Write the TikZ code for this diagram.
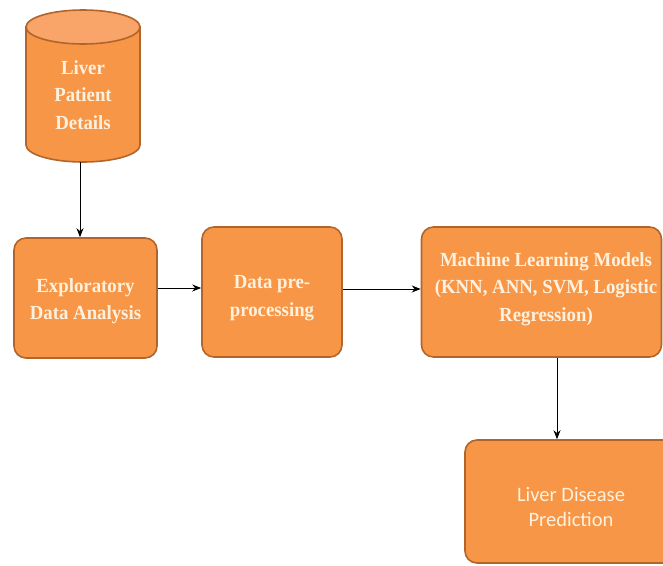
\documentclass[tikz,border=0pt]{standalone}
\usepackage{fontspec}
\setmainfont{Liberation Serif}
\newfontfamily\boxserif{Liberation Serif}[BoldFont={* Bold}, BoldFeatures={FakeStretch=0.94}]
\newfontfamily\boxsans{Carlito}
\usetikzlibrary{arrows.meta}
\definecolor{boxfill}{HTML}{F79646}
\definecolor{boxedge}{HTML}{B2652B}
\definecolor{boxtop}{HTML}{F9A468}
\definecolor{boxtext}{HTML}{FFF1DE}
\tikzset{
  flowbox/.style={draw=boxedge, line width=1.6pt, fill=boxfill, rounded corners=12pt,
    text=boxtext, align=center, inner sep=0pt},
  serifbox/.style={flowbox, font=\boxserif\bfseries\fontsize{20}{27.5}\selectfont},
  sansbox/.style={flowbox, font=\boxsans\fontsize{20.5}{25}\selectfont},
  lbl/.style={text=boxtext, align=center, inner sep=0pt, font=\boxserif\bfseries\fontsize{20}{27.5}\selectfont},
  conn/.style={draw=black, line width=0.9pt, -{Stealth[length=9pt,width=7pt]}}
}
\begin{document}
\begin{tikzpicture}[x=1pt,y=-1pt]
\useasboundingbox (0,0) rectangle (663,565);
\clip (0,0) rectangle (663,565);
% cylinder
\path[draw=boxedge, line width=1.6pt, fill=boxfill]
  (26,27) -- (26,145) arc[start angle=180, end angle=360, x radius=57, y radius=-17]
  -- (140,27) -- cycle;
\path[draw=boxedge, line width=1.6pt, fill=boxtop]
  (83,27) ellipse[x radius=57, y radius=17];
\node[lbl] (cyl) at (83,95) {Liver\\Patient\\Details};
\coordinate (cylbot) at (80,162);
% boxes
\node[serifbox, minimum width=143pt, minimum height=120pt] (eda) at (85.5,298) {};
\node[lbl] (edatext) at (85.5,301) {Exploratory\\Data Analysis};
\node[serifbox, minimum width=140pt, minimum height=130pt] (pre) at (272,292) {};
\node[lbl] (pretext) at (272,298) {Data pre-\\processing};
\node[serifbox, minimum width=240pt, minimum height=130pt] (ml) at (541.5,292) {};
\node[lbl] (mltext) at (546,289) {Machine Learning Models\\(KNN, ANN, SVM, Logistic\\Regression)};
\node[sansbox, minimum width=215pt, minimum height=123pt] (ldp) at (572.5,501.5) {};
\node[text=boxtext, align=center, inner sep=0pt, font=\boxsans\fontsize{20.5}{25}\selectfont] (ldptext) at (571,507) {Liver Disease\\Prediction};
% connectors
\draw[conn] (cylbot) -- (cylbot |- eda.north);
\draw[conn] (eda.east |- 0,288) -- (pre.west |- 0,288);
\draw[conn] (pre.east |- 0,289) -- (ml.west |- 0,289);
\draw[conn] (ml.south -| 557,0) -- (ldp.north -| 557,0);
\end{tikzpicture}
\end{document}
